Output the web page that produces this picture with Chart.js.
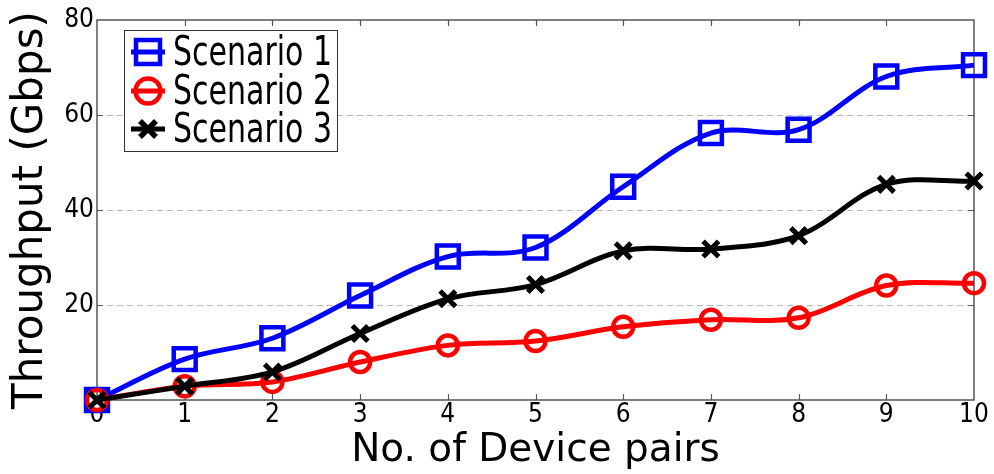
<!DOCTYPE html>
<html>
<head>
<meta charset="utf-8">
<script src="https://cdn.jsdelivr.net/npm/chart.js@4.4.1/dist/chart.umd.min.js"></script>
<style>
  html, body { margin: 0; padding: 0; background: #fff; }
  #wrap { position: relative; width: 994px; height: 474px; }
  #legend {
    position: absolute; left: 124px; top: 30px; width: 214px; height: 122px;
    border: 1px solid #333; background: #fff; box-sizing: border-box;
    font-family: "DejaVu Sans Condensed", "DejaVu Sans", sans-serif;
  }
  .row { position: absolute; left: 0; height: 38px; width: 100%; }
  .row svg { position: absolute; left: 6px; top: 2px; }
  .row span { position: absolute; left: 48px; top: -5px; font-size: 40px; line-height: 46px;
    white-space: nowrap; transform-origin: 0 50%; color: #000; }
</style>
</head>
<body>
<div id="wrap">
  <canvas id="c" width="994" height="474"></canvas>
  <div id="legend"></div>
</div>
<script>
const categories = ['0','1','2','3','4','5','6','7','8','9','10'];
const scenario1 = [0, 8.6, 13.0, 22.0, 30.2, 32.1, 44.9, 56.2, 56.9, 68.1, 70.5];
const scenario2 = [0, 2.9, 3.8, 8.0, 11.5, 12.4, 15.4, 16.9, 17.3, 24.1, 24.6];
const scenario3 = [0, 2.9, 5.9, 14.0, 21.3, 24.3, 31.4, 31.8, 34.6, 45.4, 46.1];
const seriesNames = ['Scenario 1', 'Scenario 2', 'Scenario 3'];
const yTicks = [0, 20, 40, 60, 80];

const frame = {
  id: 'frame',
  afterDraw(chart) {
    const {ctx, chartArea: a, scales} = chart;
    ctx.save();
    ctx.strokeStyle = '#555';
    ctx.lineWidth = 1.2;
    // inward ticks on all sides
    ctx.beginPath();
    categories.forEach((c, i) => {
      if (i === 0 || i === categories.length - 1) return;
      const x = Math.round(scales.x.getPixelForValue(i)) + 0.5;
      ctx.moveTo(x, a.bottom); ctx.lineTo(x, a.bottom - 6);
      ctx.moveTo(x, a.top); ctx.lineTo(x, a.top + 6);
    });
    yTicks.forEach(v => {
      if (v === yTicks[0] || v === yTicks[yTicks.length - 1]) return;
      const y = Math.round(scales.y.getPixelForValue(v)) + 0.5;
      ctx.moveTo(a.left, y); ctx.lineTo(a.left + 6, y);
      ctx.moveTo(a.right, y); ctx.lineTo(a.right - 6, y);
    });
    ctx.stroke();
    ctx.restore();
  },
  beforeDatasetsDraw(chart) {
    const {ctx, chartArea: a} = chart;
    ctx.save();
    ctx.strokeStyle = '#555';
    ctx.lineWidth = 1.5;
    ctx.strokeRect(a.left, a.top, a.right - a.left, a.bottom - a.top);
    ctx.restore();
  }
};

const common = { borderWidth: 5, pointBorderWidth: 4.5, pointBackgroundColor: 'rgba(0,0,0,0)',
  tension: 0.35, clip: false, pointHoverRadius: 0 };

new Chart(document.getElementById('c'), {
  type: 'line',
  data: {
    labels: categories,
    datasets: [
      Object.assign({}, common, { label: seriesNames[0], data: scenario1, borderColor: '#0000ff',
        pointBorderColor: '#0000ff', pointStyle: 'rect', pointRadius: 15.5, order: 2 }),
      Object.assign({}, common, { label: seriesNames[1], data: scenario2, borderColor: '#ff0000',
        pointBorderColor: '#ff0000', pointStyle: 'circle', pointRadius: 10, order: 1 }),
      Object.assign({}, common, { label: seriesNames[2], data: scenario3, borderColor: '#000000',
        pointBorderColor: '#000000', pointStyle: 'crossRot', pointRadius: 11, pointBorderWidth: 5, order: 0 })
    ]
  },
  options: {
    responsive: false,
    animation: false,
    events: [],
    layout: { padding: { top: 18, right: 20, left: 0, bottom: 0 } },
    plugins: { legend: { display: false }, tooltip: { enabled: false } },
    scales: {
      x: {
        type: 'category',
        offset: false,
        grid: { display: false, drawTicks: false },
        border: { display: false },
        ticks: { color: '#000', padding: 0, maxRotation: 0, autoSkip: false,
          font: { family: '"DejaVu Sans Condensed", "DejaVu Sans"', size: 26 } },
        title: { display: true, text: 'No. of Device pairs', color: '#000',
          font: { family: '"DejaVu Sans"', size: 39 }, padding: { top: 0, bottom: 0 } },
        afterFit(s) { s.height = 74; }
      },
      y: {
        min: yTicks[0], max: yTicks[yTicks.length - 1],
        afterBuildTicks(s) { s.ticks = yTicks.map(v => ({ value: v })); },
        grid: {
          drawTicks: false,
          color: ctx => (ctx.tick && (ctx.tick.value === yTicks[0] || ctx.tick.value === yTicks[yTicks.length-1])) ? 'rgba(0,0,0,0)' : '#b8b8b8',
          lineWidth: 1
        },
        border: { display: false, dash: [6, 4] },
        ticks: { color: '#000', padding: 3,
          callback: v => v === 0 ? '' : String(v),
          font: { family: '"DejaVu Sans Condensed", "DejaVu Sans"', size: 26 } },
        title: { display: true, text: 'Throughput (Gbps)', color: '#000',
          font: { family: '"DejaVu Sans"', size: 42 }, padding: { top: 6, bottom: 0 } },
        afterFit(s) { s.width = 97; }
      }
    }
  },
  plugins: [frame]
});

// HTML legend
const legend = document.getElementById('legend');
const colors = ['#0000ff', '#ff0000', '#000000'];
const markers = [
  c => `<rect x="5" y="5" width="24" height="24" fill="none" stroke="${c}" stroke-width="4.5"/>`,
  c => `<circle cx="17" cy="17" r="12.5" fill="none" stroke="${c}" stroke-width="4.5"/>`,
  c => `<path d="M9 9 L25 25 M25 9 L9 25" stroke="${c}" stroke-width="5.5"/>`
];
seriesNames.forEach((name, i) => {
  const row = document.createElement('div');
  row.className = 'row';
  row.style.top = (2 + i * 38.5) + 'px';
  row.innerHTML = `<svg width="34" height="34" viewBox="0 0 34 34">
      <line x1="0" y1="17" x2="34" y2="17" stroke="${colors[i]}" stroke-width="5"/>${markers[i](colors[i])}</svg>
    <span>${name}</span>`;
  legend.appendChild(row);
  const sp = row.querySelector('span');
  const w = sp.getBoundingClientRect().width;
  sp.style.transform = `scaleX(${159 / w})`;
});
</script>
</body>
</html>
